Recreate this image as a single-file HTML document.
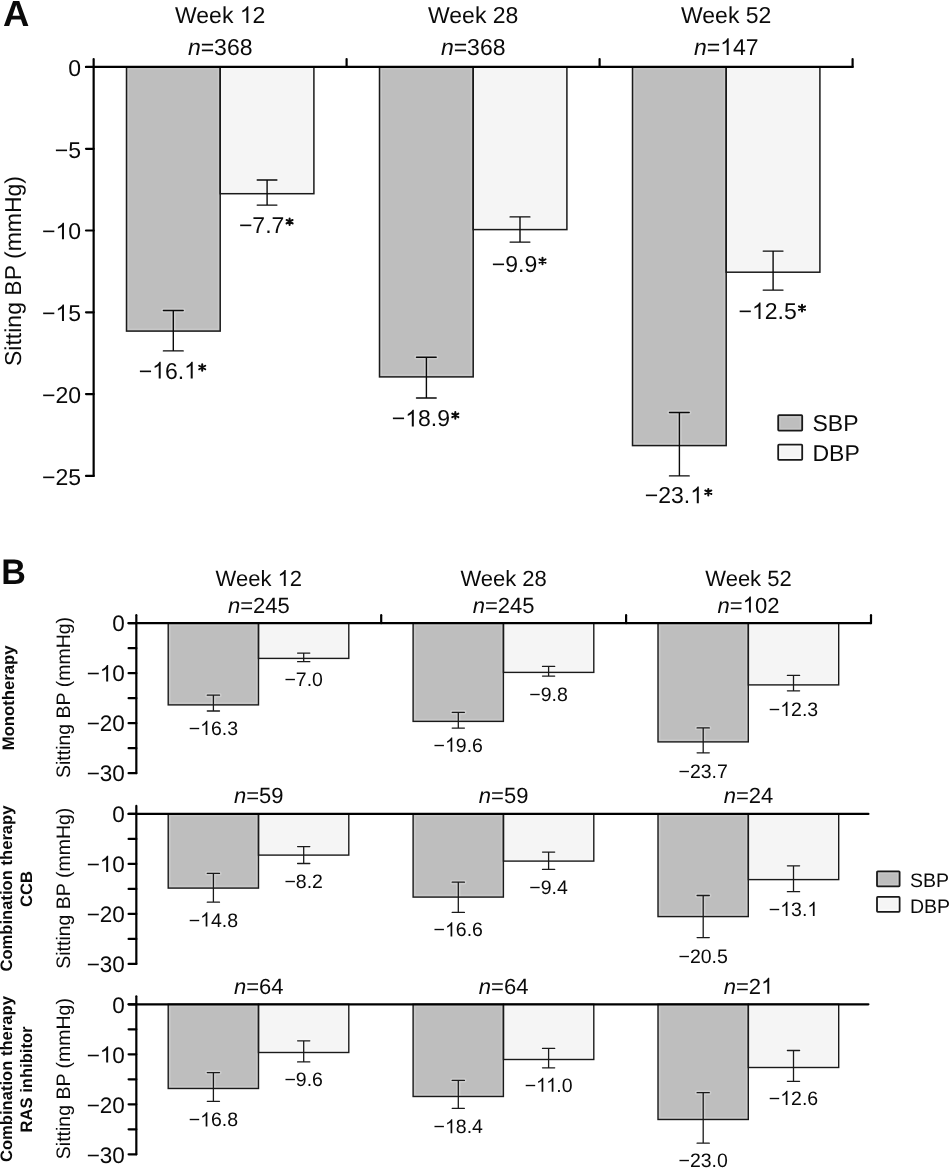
<!DOCTYPE html>
<html><head><meta charset="utf-8"><style>
html,body{margin:0;padding:0;background:#fff;width:949px;height:1168px;overflow:hidden}
svg{display:block;will-change:transform}
text{font-family:"Liberation Sans", sans-serif;fill:#0a0a0a;text-rendering:geometricPrecision}
.o,.s{fill-opacity:0}
</style></head><body>
<svg width="949" height="1168" viewBox="0 0 949 1168">
<rect width="949" height="1168" fill="#fff"/>
<rect x="126.5" y="67.0" width="93.7" height="264.1" fill="#bebebe"/>
<rect x="220.2" y="67.0" width="93.7" height="126.7" fill="#f5f5f5"/>
<rect x="379.5" y="67.0" width="93.7" height="309.9" fill="#bebebe"/>
<rect x="473.2" y="67.0" width="93.7" height="162.6" fill="#f5f5f5"/>
<rect x="632.5" y="67.0" width="93.7" height="378.6" fill="#bebebe"/>
<rect x="726.2" y="67.0" width="93.7" height="205.2" fill="#f5f5f5"/>
<rect x="168.2" y="623.2" width="90.3" height="81.7" fill="#bebebe"/>
<rect x="258.5" y="623.2" width="90.3" height="35.2" fill="#f5f5f5"/>
<rect x="413.1" y="623.2" width="90.3" height="98.2" fill="#bebebe"/>
<rect x="503.5" y="623.2" width="90.3" height="49.2" fill="#f5f5f5"/>
<rect x="658.0" y="623.2" width="90.3" height="118.7" fill="#bebebe"/>
<rect x="748.4" y="623.2" width="90.3" height="61.7" fill="#f5f5f5"/>
<rect x="168.2" y="813.9" width="90.3" height="74.2" fill="#bebebe"/>
<rect x="258.5" y="813.9" width="90.3" height="41.2" fill="#f5f5f5"/>
<rect x="413.1" y="813.9" width="90.3" height="83.2" fill="#bebebe"/>
<rect x="503.5" y="813.9" width="90.3" height="47.2" fill="#f5f5f5"/>
<rect x="658.0" y="813.9" width="90.3" height="102.7" fill="#bebebe"/>
<rect x="748.4" y="813.9" width="90.3" height="65.7" fill="#f5f5f5"/>
<rect x="168.2" y="1004.3" width="90.3" height="84.2" fill="#bebebe"/>
<rect x="258.5" y="1004.3" width="90.3" height="48.2" fill="#f5f5f5"/>
<rect x="413.1" y="1004.3" width="90.3" height="92.2" fill="#bebebe"/>
<rect x="503.5" y="1004.3" width="90.3" height="55.2" fill="#f5f5f5"/>
<rect x="658.0" y="1004.3" width="90.3" height="115.2" fill="#bebebe"/>
<rect x="748.4" y="1004.3" width="90.3" height="63.2" fill="#f5f5f5"/>
<rect x="128.3" y="68.8" width="90.1" height="260.5" fill="none" stroke="#fff" stroke-opacity="0.16" stroke-width="1.4"/>
<rect x="222.0" y="68.8" width="90.1" height="123.1" fill="none" stroke="#fff" stroke-opacity="0.16" stroke-width="1.4"/>
<path d="M173.3 310.5V350.9M163.4 310.5H183.2M163.4 350.9H183.2" stroke="#fff" stroke-opacity="0.22" stroke-width="4.6" stroke-linecap="round" fill="none"/>
<path d="M267.1 180.0V205.1M257.2 180.0H276.9M257.2 205.1H276.9" stroke="#fff" stroke-opacity="0.22" stroke-width="4.6" stroke-linecap="round" fill="none"/>
<rect x="381.3" y="68.8" width="90.1" height="306.3" fill="none" stroke="#fff" stroke-opacity="0.16" stroke-width="1.4"/>
<rect x="475.0" y="68.8" width="90.1" height="159.0" fill="none" stroke="#fff" stroke-opacity="0.16" stroke-width="1.4"/>
<path d="M426.4 357.2V398.0M416.5 357.2H436.2M416.5 398.0H436.2" stroke="#fff" stroke-opacity="0.22" stroke-width="4.6" stroke-linecap="round" fill="none"/>
<path d="M520.0 216.9V242.1M510.1 216.9H529.9M510.1 242.1H529.9" stroke="#fff" stroke-opacity="0.22" stroke-width="4.6" stroke-linecap="round" fill="none"/>
<rect x="634.3" y="68.8" width="90.1" height="375.0" fill="none" stroke="#fff" stroke-opacity="0.16" stroke-width="1.4"/>
<rect x="728.0" y="68.8" width="90.1" height="201.6" fill="none" stroke="#fff" stroke-opacity="0.16" stroke-width="1.4"/>
<path d="M679.4 412.5V475.9M669.5 412.5H689.2M669.5 475.9H689.2" stroke="#fff" stroke-opacity="0.22" stroke-width="4.6" stroke-linecap="round" fill="none"/>
<path d="M773.1 251.1V290.1M763.2 251.1H783.0M763.2 290.1H783.0" stroke="#fff" stroke-opacity="0.22" stroke-width="4.6" stroke-linecap="round" fill="none"/>
<rect x="170.0" y="625.0" width="86.8" height="78.1" fill="none" stroke="#fff" stroke-opacity="0.16" stroke-width="1.4"/>
<rect x="260.3" y="625.0" width="86.8" height="31.6" fill="none" stroke="#fff" stroke-opacity="0.16" stroke-width="1.4"/>
<path d="M213.4 695.2V711.0M207.3 695.2H219.5M207.3 711.0H219.5" stroke="#fff" stroke-opacity="0.22" stroke-width="4.4" stroke-linecap="round" fill="none"/>
<path d="M303.7 653.1V661.7M297.6 653.1H309.8M297.6 661.7H309.8" stroke="#fff" stroke-opacity="0.22" stroke-width="4.4" stroke-linecap="round" fill="none"/>
<rect x="414.9" y="625.0" width="86.8" height="94.6" fill="none" stroke="#fff" stroke-opacity="0.16" stroke-width="1.4"/>
<rect x="505.3" y="625.0" width="86.8" height="45.6" fill="none" stroke="#fff" stroke-opacity="0.16" stroke-width="1.4"/>
<path d="M458.3 712.3V728.1M452.2 712.3H464.4M452.2 728.1H464.4" stroke="#fff" stroke-opacity="0.22" stroke-width="4.4" stroke-linecap="round" fill="none"/>
<path d="M548.6 666.4V676.1M542.5 666.4H554.7M542.5 676.1H554.7" stroke="#fff" stroke-opacity="0.22" stroke-width="4.4" stroke-linecap="round" fill="none"/>
<rect x="659.8" y="625.0" width="86.8" height="115.1" fill="none" stroke="#fff" stroke-opacity="0.16" stroke-width="1.4"/>
<rect x="750.1" y="625.0" width="86.8" height="58.1" fill="none" stroke="#fff" stroke-opacity="0.16" stroke-width="1.4"/>
<path d="M703.2 727.9V752.8M697.1 727.9H709.3M697.1 752.8H709.3" stroke="#fff" stroke-opacity="0.22" stroke-width="4.4" stroke-linecap="round" fill="none"/>
<path d="M793.5 675.4V690.8M787.4 675.4H799.6M787.4 690.8H799.6" stroke="#fff" stroke-opacity="0.22" stroke-width="4.4" stroke-linecap="round" fill="none"/>
<rect x="170.0" y="815.7" width="86.8" height="70.6" fill="none" stroke="#fff" stroke-opacity="0.16" stroke-width="1.4"/>
<rect x="260.3" y="815.7" width="86.8" height="37.6" fill="none" stroke="#fff" stroke-opacity="0.16" stroke-width="1.4"/>
<path d="M213.4 873.4V902.2M207.3 873.4H219.5M207.3 902.2H219.5" stroke="#fff" stroke-opacity="0.22" stroke-width="4.4" stroke-linecap="round" fill="none"/>
<path d="M303.7 846.6V863.5M297.6 846.6H309.8M297.6 863.5H309.8" stroke="#fff" stroke-opacity="0.22" stroke-width="4.4" stroke-linecap="round" fill="none"/>
<rect x="414.9" y="815.7" width="86.8" height="79.6" fill="none" stroke="#fff" stroke-opacity="0.16" stroke-width="1.4"/>
<rect x="505.3" y="815.7" width="86.8" height="43.6" fill="none" stroke="#fff" stroke-opacity="0.16" stroke-width="1.4"/>
<path d="M458.3 882.2V912.4M452.2 882.2H464.4M452.2 912.4H464.4" stroke="#fff" stroke-opacity="0.22" stroke-width="4.4" stroke-linecap="round" fill="none"/>
<path d="M548.6 852.1V869.4M542.5 852.1H554.7M542.5 869.4H554.7" stroke="#fff" stroke-opacity="0.22" stroke-width="4.4" stroke-linecap="round" fill="none"/>
<rect x="659.8" y="815.7" width="86.8" height="99.1" fill="none" stroke="#fff" stroke-opacity="0.16" stroke-width="1.4"/>
<rect x="750.1" y="815.7" width="86.8" height="62.1" fill="none" stroke="#fff" stroke-opacity="0.16" stroke-width="1.4"/>
<path d="M703.2 895.5V937.6M697.1 895.5H709.3M697.1 937.6H709.3" stroke="#fff" stroke-opacity="0.22" stroke-width="4.4" stroke-linecap="round" fill="none"/>
<path d="M793.5 865.8V891.7M787.4 865.8H799.6M787.4 891.7H799.6" stroke="#fff" stroke-opacity="0.22" stroke-width="4.4" stroke-linecap="round" fill="none"/>
<rect x="170.0" y="1006.1" width="86.8" height="80.6" fill="none" stroke="#fff" stroke-opacity="0.16" stroke-width="1.4"/>
<rect x="260.3" y="1006.1" width="86.8" height="44.6" fill="none" stroke="#fff" stroke-opacity="0.16" stroke-width="1.4"/>
<path d="M213.4 1072.6V1101.3M207.3 1072.6H219.5M207.3 1101.3H219.5" stroke="#fff" stroke-opacity="0.22" stroke-width="4.4" stroke-linecap="round" fill="none"/>
<path d="M303.7 1040.8V1061.9M297.6 1040.8H309.8M297.6 1061.9H309.8" stroke="#fff" stroke-opacity="0.22" stroke-width="4.4" stroke-linecap="round" fill="none"/>
<rect x="414.9" y="1006.1" width="86.8" height="88.6" fill="none" stroke="#fff" stroke-opacity="0.16" stroke-width="1.4"/>
<rect x="505.3" y="1006.1" width="86.8" height="51.6" fill="none" stroke="#fff" stroke-opacity="0.16" stroke-width="1.4"/>
<path d="M458.3 1080.4V1108.3M452.2 1080.4H464.4M452.2 1108.3H464.4" stroke="#fff" stroke-opacity="0.22" stroke-width="4.4" stroke-linecap="round" fill="none"/>
<path d="M548.6 1048.4V1067.8M542.5 1048.4H554.7M542.5 1067.8H554.7" stroke="#fff" stroke-opacity="0.22" stroke-width="4.4" stroke-linecap="round" fill="none"/>
<rect x="659.8" y="1006.1" width="86.8" height="111.6" fill="none" stroke="#fff" stroke-opacity="0.16" stroke-width="1.4"/>
<rect x="750.1" y="1006.1" width="86.8" height="59.6" fill="none" stroke="#fff" stroke-opacity="0.16" stroke-width="1.4"/>
<path d="M703.2 1092.7V1143.2M697.1 1092.7H709.3M697.1 1143.2H709.3" stroke="#fff" stroke-opacity="0.22" stroke-width="4.4" stroke-linecap="round" fill="none"/>
<path d="M793.5 1050.5V1081.3M787.4 1050.5H799.6M787.4 1081.3H799.6" stroke="#fff" stroke-opacity="0.22" stroke-width="4.4" stroke-linecap="round" fill="none"/>
<rect x="126.5" y="67.0" width="93.7" height="264.1" fill="none" stroke="#1a1a1a" stroke-width="1.5"/>
<rect x="220.2" y="67.0" width="93.7" height="126.7" fill="none" stroke="#1a1a1a" stroke-width="1.5"/>
<rect x="379.5" y="67.0" width="93.7" height="309.9" fill="none" stroke="#1a1a1a" stroke-width="1.5"/>
<rect x="473.2" y="67.0" width="93.7" height="162.6" fill="none" stroke="#1a1a1a" stroke-width="1.5"/>
<rect x="632.5" y="67.0" width="93.7" height="378.6" fill="none" stroke="#1a1a1a" stroke-width="1.5"/>
<rect x="726.2" y="67.0" width="93.7" height="205.2" fill="none" stroke="#1a1a1a" stroke-width="1.5"/>
<rect x="168.2" y="623.2" width="90.3" height="81.7" fill="none" stroke="#1a1a1a" stroke-width="1.4"/>
<rect x="258.5" y="623.2" width="90.3" height="35.2" fill="none" stroke="#1a1a1a" stroke-width="1.4"/>
<rect x="413.1" y="623.2" width="90.3" height="98.2" fill="none" stroke="#1a1a1a" stroke-width="1.4"/>
<rect x="503.5" y="623.2" width="90.3" height="49.2" fill="none" stroke="#1a1a1a" stroke-width="1.4"/>
<rect x="658.0" y="623.2" width="90.3" height="118.7" fill="none" stroke="#1a1a1a" stroke-width="1.4"/>
<rect x="748.4" y="623.2" width="90.3" height="61.7" fill="none" stroke="#1a1a1a" stroke-width="1.4"/>
<rect x="168.2" y="813.9" width="90.3" height="74.2" fill="none" stroke="#1a1a1a" stroke-width="1.4"/>
<rect x="258.5" y="813.9" width="90.3" height="41.2" fill="none" stroke="#1a1a1a" stroke-width="1.4"/>
<rect x="413.1" y="813.9" width="90.3" height="83.2" fill="none" stroke="#1a1a1a" stroke-width="1.4"/>
<rect x="503.5" y="813.9" width="90.3" height="47.2" fill="none" stroke="#1a1a1a" stroke-width="1.4"/>
<rect x="658.0" y="813.9" width="90.3" height="102.7" fill="none" stroke="#1a1a1a" stroke-width="1.4"/>
<rect x="748.4" y="813.9" width="90.3" height="65.7" fill="none" stroke="#1a1a1a" stroke-width="1.4"/>
<rect x="168.2" y="1004.3" width="90.3" height="84.2" fill="none" stroke="#1a1a1a" stroke-width="1.4"/>
<rect x="258.5" y="1004.3" width="90.3" height="48.2" fill="none" stroke="#1a1a1a" stroke-width="1.4"/>
<rect x="413.1" y="1004.3" width="90.3" height="92.2" fill="none" stroke="#1a1a1a" stroke-width="1.4"/>
<rect x="503.5" y="1004.3" width="90.3" height="55.2" fill="none" stroke="#1a1a1a" stroke-width="1.4"/>
<rect x="658.0" y="1004.3" width="90.3" height="115.2" fill="none" stroke="#1a1a1a" stroke-width="1.4"/>
<rect x="748.4" y="1004.3" width="90.3" height="63.2" fill="none" stroke="#1a1a1a" stroke-width="1.4"/>
<path d="M173.3 310.5V350.9M163.4 310.5H183.2M163.4 350.9H183.2" stroke="#0a0a0a" stroke-width="1.4" stroke-linecap="round" fill="none"/>
<path d="M267.1 180.0V205.1M257.2 180.0H276.9M257.2 205.1H276.9" stroke="#0a0a0a" stroke-width="1.4" stroke-linecap="round" fill="none"/>
<path d="M426.4 357.2V398.0M416.5 357.2H436.2M416.5 398.0H436.2" stroke="#0a0a0a" stroke-width="1.4" stroke-linecap="round" fill="none"/>
<path d="M520.0 216.9V242.1M510.1 216.9H529.9M510.1 242.1H529.9" stroke="#0a0a0a" stroke-width="1.4" stroke-linecap="round" fill="none"/>
<path d="M679.4 412.5V475.9M669.5 412.5H689.2M669.5 475.9H689.2" stroke="#0a0a0a" stroke-width="1.4" stroke-linecap="round" fill="none"/>
<path d="M773.1 251.1V290.1M763.2 251.1H783.0M763.2 290.1H783.0" stroke="#0a0a0a" stroke-width="1.4" stroke-linecap="round" fill="none"/>
<path d="M213.4 695.2V711.0M207.3 695.2H219.5M207.3 711.0H219.5" stroke="#1a1a1a" stroke-width="1.3" stroke-linecap="round" fill="none"/>
<path d="M303.7 653.1V661.7M297.6 653.1H309.8M297.6 661.7H309.8" stroke="#1a1a1a" stroke-width="1.3" stroke-linecap="round" fill="none"/>
<path d="M458.3 712.3V728.1M452.2 712.3H464.4M452.2 728.1H464.4" stroke="#1a1a1a" stroke-width="1.3" stroke-linecap="round" fill="none"/>
<path d="M548.6 666.4V676.1M542.5 666.4H554.7M542.5 676.1H554.7" stroke="#1a1a1a" stroke-width="1.3" stroke-linecap="round" fill="none"/>
<path d="M703.2 727.9V752.8M697.1 727.9H709.3M697.1 752.8H709.3" stroke="#1a1a1a" stroke-width="1.3" stroke-linecap="round" fill="none"/>
<path d="M793.5 675.4V690.8M787.4 675.4H799.6M787.4 690.8H799.6" stroke="#1a1a1a" stroke-width="1.3" stroke-linecap="round" fill="none"/>
<path d="M213.4 873.4V902.2M207.3 873.4H219.5M207.3 902.2H219.5" stroke="#1a1a1a" stroke-width="1.3" stroke-linecap="round" fill="none"/>
<path d="M303.7 846.6V863.5M297.6 846.6H309.8M297.6 863.5H309.8" stroke="#1a1a1a" stroke-width="1.3" stroke-linecap="round" fill="none"/>
<path d="M458.3 882.2V912.4M452.2 882.2H464.4M452.2 912.4H464.4" stroke="#1a1a1a" stroke-width="1.3" stroke-linecap="round" fill="none"/>
<path d="M548.6 852.1V869.4M542.5 852.1H554.7M542.5 869.4H554.7" stroke="#1a1a1a" stroke-width="1.3" stroke-linecap="round" fill="none"/>
<path d="M703.2 895.5V937.6M697.1 895.5H709.3M697.1 937.6H709.3" stroke="#1a1a1a" stroke-width="1.3" stroke-linecap="round" fill="none"/>
<path d="M793.5 865.8V891.7M787.4 865.8H799.6M787.4 891.7H799.6" stroke="#1a1a1a" stroke-width="1.3" stroke-linecap="round" fill="none"/>
<path d="M213.4 1072.6V1101.3M207.3 1072.6H219.5M207.3 1101.3H219.5" stroke="#1a1a1a" stroke-width="1.3" stroke-linecap="round" fill="none"/>
<path d="M303.7 1040.8V1061.9M297.6 1040.8H309.8M297.6 1061.9H309.8" stroke="#1a1a1a" stroke-width="1.3" stroke-linecap="round" fill="none"/>
<path d="M458.3 1080.4V1108.3M452.2 1080.4H464.4M452.2 1108.3H464.4" stroke="#1a1a1a" stroke-width="1.3" stroke-linecap="round" fill="none"/>
<path d="M548.6 1048.4V1067.8M542.5 1048.4H554.7M542.5 1067.8H554.7" stroke="#1a1a1a" stroke-width="1.3" stroke-linecap="round" fill="none"/>
<path d="M703.2 1092.7V1143.2M697.1 1092.7H709.3M697.1 1143.2H709.3" stroke="#1a1a1a" stroke-width="1.3" stroke-linecap="round" fill="none"/>
<path d="M793.5 1050.5V1081.3M787.4 1050.5H799.6M787.4 1081.3H799.6" stroke="#1a1a1a" stroke-width="1.3" stroke-linecap="round" fill="none"/>
<text x="3" y="25.8" font-size="36.5" font-weight="bold">A</text>
<text x="220.2" y="23" font-size="23" text-anchor="middle">Week <tspan class="o">1</tspan>2</text>
<text x="220.2" y="55" font-size="23" text-anchor="middle"><tspan font-style="italic">n</tspan>=368</text>
<text x="473.2" y="23" font-size="23" text-anchor="middle">Week 28</text>
<text x="473.2" y="55" font-size="23" text-anchor="middle"><tspan font-style="italic">n</tspan>=368</text>
<text x="726.2" y="23" font-size="23" text-anchor="middle">Week 52</text>
<text x="726.2" y="55" font-size="23" text-anchor="middle"><tspan font-style="italic">n</tspan>=<tspan class="o">1</tspan>47</text>
<text x="172.3" y="378.5" font-size="23" text-anchor="middle">−<tspan class="o">1</tspan>6.<tspan class="o">1</tspan><tspan class="s">*</tspan></text>
<text x="266.1" y="232.7" font-size="23" text-anchor="middle">−7.7<tspan class="s">*</tspan></text>
<text x="425.4" y="426.4" font-size="23" text-anchor="middle">−<tspan class="o">1</tspan>8.9<tspan class="s">*</tspan></text>
<text x="519.0" y="272.0" font-size="23" text-anchor="middle">−9.9<tspan class="s">*</tspan></text>
<text x="678.4" y="503.2" font-size="23" text-anchor="middle">−23.<tspan class="o">1</tspan><tspan class="s">*</tspan></text>
<text x="772.1" y="319.1" font-size="23" text-anchor="middle">−<tspan class="o">1</tspan>2.5<tspan class="s">*</tspan></text>
<path d="M93.65 59V475.9" stroke="#000" stroke-width="2.2" stroke-linecap="round" stroke-linejoin="round" fill="none"/>
<path d="M86 66.96H852.6" stroke="#000" stroke-width="2.2" stroke-linecap="round" stroke-linejoin="round" fill="none"/>
<path d="M86 67.0H93.65" stroke="#000" stroke-width="2.2" stroke-linecap="round" stroke-linejoin="round" fill="none"/>
<text x="81" y="75.8" font-size="23" text-anchor="end">0</text>
<path d="M86 148.8H93.65" stroke="#000" stroke-width="2.2" stroke-linecap="round" stroke-linejoin="round" fill="none"/>
<text x="81" y="157.6" font-size="23" text-anchor="end">−5</text>
<path d="M86 230.5H93.65" stroke="#000" stroke-width="2.2" stroke-linecap="round" stroke-linejoin="round" fill="none"/>
<text x="81" y="239.3" font-size="23" text-anchor="end">−<tspan class="o">1</tspan>0</text>
<path d="M86 312.3H93.65" stroke="#000" stroke-width="2.2" stroke-linecap="round" stroke-linejoin="round" fill="none"/>
<text x="81" y="321.1" font-size="23" text-anchor="end">−<tspan class="o">1</tspan>5</text>
<path d="M86 394.1H93.65" stroke="#000" stroke-width="2.2" stroke-linecap="round" stroke-linejoin="round" fill="none"/>
<text x="81" y="402.9" font-size="23" text-anchor="end">−20</text>
<path d="M86 475.9H93.65" stroke="#000" stroke-width="2.2" stroke-linecap="round" stroke-linejoin="round" fill="none"/>
<text x="81" y="484.7" font-size="23" text-anchor="end">−25</text>
<path d="M346.6 59V66.96" stroke="#000" stroke-width="2.2" stroke-linecap="round" stroke-linejoin="round" fill="none"/>
<path d="M599.6 59V66.96" stroke="#000" stroke-width="2.2" stroke-linecap="round" stroke-linejoin="round" fill="none"/>
<path d="M852.6 59V66.96" stroke="#000" stroke-width="2.2" stroke-linecap="round" stroke-linejoin="round" fill="none"/>
<text transform="translate(21.2,271.0) rotate(-90)" font-size="23" text-anchor="middle">Sitting BP (mmHg)</text>
<rect x="778.2" y="415.2" width="24" height="15.4" rx="0.8" fill="#bebebe" stroke="#1a1a1a" stroke-width="1.8"/>
<rect x="780.1" y="417.1" width="20.2" height="11.6" fill="none" stroke="#fff" stroke-opacity="0.16" stroke-width="1.2"/>
<rect x="778.2" y="444.6" width="24" height="15.2" rx="0.8" fill="#f5f5f5" stroke="#1a1a1a" stroke-width="1.8"/>
<rect x="780.1" y="446.5" width="20.2" height="11.4" fill="none" stroke="#fff" stroke-opacity="0.6" stroke-width="1.2"/>
<text x="812.5" y="431.1" font-size="23">SBP</text>
<text x="812.5" y="460.8" font-size="23">DBP</text>
<text transform="translate(1.3,583.7) scale(0.96,1)" font-size="35.5" font-weight="bold">B</text>
<text x="258.8" y="586" font-size="22" text-anchor="middle">Week <tspan class="o">1</tspan>2</text>
<text x="258.8" y="612.5" font-size="22" text-anchor="middle"><tspan font-style="italic">n</tspan>=245</text>
<text x="213.4" y="734.9" font-size="19.5" text-anchor="middle">−<tspan class="o">1</tspan>6.3</text>
<text x="303.7" y="686.0" font-size="19.5" text-anchor="middle">−7.0</text>
<text x="503.6" y="586" font-size="22" text-anchor="middle">Week 28</text>
<text x="503.6" y="612.5" font-size="22" text-anchor="middle"><tspan font-style="italic">n</tspan>=245</text>
<text x="458.3" y="751.7" font-size="19.5" text-anchor="middle">−<tspan class="o">1</tspan>9.6</text>
<text x="548.6" y="700.5" font-size="19.5" text-anchor="middle">−9.8</text>
<text x="748.5" y="586" font-size="22" text-anchor="middle">Week 52</text>
<text x="748.5" y="612.5" font-size="22" text-anchor="middle"><tspan font-style="italic">n</tspan>=<tspan class="o">1</tspan>02</text>
<text x="703.2" y="777.6" font-size="19.5" text-anchor="middle">−23.7</text>
<text x="793.5" y="715.9" font-size="19.5" text-anchor="middle">−<tspan class="o">1</tspan>2.3</text>
<path d="M136.33 615.2V773.2" stroke="#000" stroke-width="2.2" stroke-linecap="round" stroke-linejoin="round" fill="none"/>
<path d="M128.6 623.2H871.0" stroke="#000" stroke-width="2.2" stroke-linecap="round" stroke-linejoin="round" fill="none"/>
<path d="M128.6 623.2H136.33" stroke="#000" stroke-width="2.2" stroke-linecap="round" stroke-linejoin="round" fill="none"/>
<text x="124.8" y="631.4" font-size="22.5" text-anchor="end">0</text>
<path d="M128.6 648.2H136.33" stroke="#000" stroke-width="2.2" stroke-linecap="round" stroke-linejoin="round" fill="none"/>
<path d="M128.6 673.2H136.33" stroke="#000" stroke-width="2.2" stroke-linecap="round" stroke-linejoin="round" fill="none"/>
<text x="124.8" y="681.4" font-size="22.5" text-anchor="end">−<tspan class="o">1</tspan>0</text>
<path d="M128.6 698.2H136.33" stroke="#000" stroke-width="2.2" stroke-linecap="round" stroke-linejoin="round" fill="none"/>
<path d="M128.6 723.2H136.33" stroke="#000" stroke-width="2.2" stroke-linecap="round" stroke-linejoin="round" fill="none"/>
<text x="124.8" y="731.4" font-size="22.5" text-anchor="end">−20</text>
<path d="M128.6 748.2H136.33" stroke="#000" stroke-width="2.2" stroke-linecap="round" stroke-linejoin="round" fill="none"/>
<path d="M128.6 773.2H136.33" stroke="#000" stroke-width="2.2" stroke-linecap="round" stroke-linejoin="round" fill="none"/>
<text x="124.8" y="781.4" font-size="22.5" text-anchor="end">−30</text>
<path d="M381.2 615.2V623.2" stroke="#000" stroke-width="2.2" stroke-linecap="round" stroke-linejoin="round" fill="none"/>
<path d="M626.1 615.2V623.2" stroke="#000" stroke-width="2.2" stroke-linecap="round" stroke-linejoin="round" fill="none"/>
<path d="M871.0 615.2V623.2" stroke="#000" stroke-width="2.2" stroke-linecap="round" stroke-linejoin="round" fill="none"/>
<text transform="translate(69.9,697.5) rotate(-90)" font-size="19.5" text-anchor="middle">Sitting BP (mmHg)</text>
<text x="258.8" y="803.3" font-size="22" text-anchor="middle"><tspan font-style="italic">n</tspan>=59</text>
<text x="213.4" y="926.5" font-size="19.5" text-anchor="middle">−<tspan class="o">1</tspan>4.8</text>
<text x="303.7" y="887.9" font-size="19.5" text-anchor="middle">−8.2</text>
<text x="503.6" y="803.3" font-size="22" text-anchor="middle"><tspan font-style="italic">n</tspan>=59</text>
<text x="458.3" y="936.4" font-size="19.5" text-anchor="middle">−<tspan class="o">1</tspan>6.6</text>
<text x="548.6" y="893.8" font-size="19.5" text-anchor="middle">−9.4</text>
<text x="748.5" y="803.3" font-size="22" text-anchor="middle"><tspan font-style="italic">n</tspan>=24</text>
<text x="703.2" y="962.5" font-size="19.5" text-anchor="middle">−20.5</text>
<text x="793.5" y="916.0" font-size="19.5" text-anchor="middle">−<tspan class="o">1</tspan>3.<tspan class="o">1</tspan></text>
<path d="M136.33 805.9V963.9" stroke="#000" stroke-width="2.2" stroke-linecap="round" stroke-linejoin="round" fill="none"/>
<path d="M128.6 813.9H868.4" stroke="#000" stroke-width="2.2" stroke-linecap="round" stroke-linejoin="round" fill="none"/>
<path d="M128.6 813.9H136.33" stroke="#000" stroke-width="2.2" stroke-linecap="round" stroke-linejoin="round" fill="none"/>
<text x="124.8" y="822.1" font-size="22.5" text-anchor="end">0</text>
<path d="M128.6 838.9H136.33" stroke="#000" stroke-width="2.2" stroke-linecap="round" stroke-linejoin="round" fill="none"/>
<path d="M128.6 863.9H136.33" stroke="#000" stroke-width="2.2" stroke-linecap="round" stroke-linejoin="round" fill="none"/>
<text x="124.8" y="872.1" font-size="22.5" text-anchor="end">−<tspan class="o">1</tspan>0</text>
<path d="M128.6 888.9H136.33" stroke="#000" stroke-width="2.2" stroke-linecap="round" stroke-linejoin="round" fill="none"/>
<path d="M128.6 913.9H136.33" stroke="#000" stroke-width="2.2" stroke-linecap="round" stroke-linejoin="round" fill="none"/>
<text x="124.8" y="922.1" font-size="22.5" text-anchor="end">−20</text>
<path d="M128.6 938.9H136.33" stroke="#000" stroke-width="2.2" stroke-linecap="round" stroke-linejoin="round" fill="none"/>
<path d="M128.6 963.9H136.33" stroke="#000" stroke-width="2.2" stroke-linecap="round" stroke-linejoin="round" fill="none"/>
<text x="124.8" y="972.1" font-size="22.5" text-anchor="end">−30</text>
<text transform="translate(69.9,888.2) rotate(-90)" font-size="19.5" text-anchor="middle">Sitting BP (mmHg)</text>
<text x="258.8" y="993.7" font-size="22" text-anchor="middle"><tspan font-style="italic">n</tspan>=64</text>
<text x="213.4" y="1126.4" font-size="19.5" text-anchor="middle">−<tspan class="o">1</tspan>6.8</text>
<text x="303.7" y="1086.3" font-size="19.5" text-anchor="middle">−9.6</text>
<text x="503.6" y="993.7" font-size="22" text-anchor="middle"><tspan font-style="italic">n</tspan>=64</text>
<text x="458.3" y="1133.3" font-size="19.5" text-anchor="middle">−<tspan class="o">1</tspan>8.4</text>
<text x="548.6" y="1091.8" font-size="19.5" text-anchor="middle">−<tspan class="o">1</tspan><tspan class="o">1</tspan>.0</text>
<text x="748.5" y="993.7" font-size="22" text-anchor="middle"><tspan font-style="italic">n</tspan>=2<tspan class="o">1</tspan></text>
<text x="703.2" y="1166.9" font-size="19.5" text-anchor="middle">−23.0</text>
<text x="793.5" y="1104.9" font-size="19.5" text-anchor="middle">−<tspan class="o">1</tspan>2.6</text>
<path d="M136.33 996.3V1154.3" stroke="#000" stroke-width="2.2" stroke-linecap="round" stroke-linejoin="round" fill="none"/>
<path d="M128.6 1004.3H868.4" stroke="#000" stroke-width="2.2" stroke-linecap="round" stroke-linejoin="round" fill="none"/>
<path d="M128.6 1004.3H136.33" stroke="#000" stroke-width="2.2" stroke-linecap="round" stroke-linejoin="round" fill="none"/>
<text x="124.8" y="1012.5" font-size="22.5" text-anchor="end">0</text>
<path d="M128.6 1029.3H136.33" stroke="#000" stroke-width="2.2" stroke-linecap="round" stroke-linejoin="round" fill="none"/>
<path d="M128.6 1054.3H136.33" stroke="#000" stroke-width="2.2" stroke-linecap="round" stroke-linejoin="round" fill="none"/>
<text x="124.8" y="1062.5" font-size="22.5" text-anchor="end">−<tspan class="o">1</tspan>0</text>
<path d="M128.6 1079.3H136.33" stroke="#000" stroke-width="2.2" stroke-linecap="round" stroke-linejoin="round" fill="none"/>
<path d="M128.6 1104.3H136.33" stroke="#000" stroke-width="2.2" stroke-linecap="round" stroke-linejoin="round" fill="none"/>
<text x="124.8" y="1112.5" font-size="22.5" text-anchor="end">−20</text>
<path d="M128.6 1129.3H136.33" stroke="#000" stroke-width="2.2" stroke-linecap="round" stroke-linejoin="round" fill="none"/>
<path d="M128.6 1154.3H136.33" stroke="#000" stroke-width="2.2" stroke-linecap="round" stroke-linejoin="round" fill="none"/>
<text x="124.8" y="1162.5" font-size="22.5" text-anchor="end">−30</text>
<text transform="translate(69.9,1078.6) rotate(-90)" font-size="19.5" text-anchor="middle">Sitting BP (mmHg)</text>
<text transform="translate(14.4,697.9) rotate(-90)" font-size="16.7" font-weight="bold" text-anchor="middle">Monotherapy</text>
<text transform="translate(11.9,888.55) rotate(-90)" font-size="16.6" font-weight="bold" text-anchor="middle">Combination therapy</text>
<text transform="translate(31.6,889.1) rotate(-90)" font-size="16.6" font-weight="bold" text-anchor="middle">CCB</text>
<text transform="translate(11.9,1079.1) rotate(-90)" font-size="16.6" font-weight="bold" text-anchor="middle">Combination therapy</text>
<text transform="translate(31.6,1079.45) rotate(-90)" font-size="16.6" font-weight="bold" text-anchor="middle">RAS inhibitor</text>
<rect x="877" y="871.3" width="22.6" height="15.1" rx="0.8" fill="#bebebe" stroke="#1a1a1a" stroke-width="1.8"/>
<rect x="878.9" y="873.2" width="18.8" height="11.3" fill="none" stroke="#fff" stroke-opacity="0.16" stroke-width="1.2"/>
<rect x="877" y="896.9" width="22.6" height="14.9" rx="0.8" fill="#f5f5f5" stroke="#1a1a1a" stroke-width="1.8"/>
<rect x="878.9" y="898.8" width="18.8" height="11.1" fill="none" stroke="#fff" stroke-opacity="0.6" stroke-width="1.2"/>
<text x="910" y="887" font-size="19.5">SBP</text>
<text x="910" y="912.7" font-size="19.5">DBP</text>
<g id="ones">
<path d="M763 0L583 0L583 1147Q518 1085 412.5 1023Q307 961 223 930L223 1104Q374 1175 486.5 1276Q599 1377 655 1484L763 1484Z" transform="translate(239.79,23.00) scale(0.01123,-0.01123)" fill="#0a0a0a"/>
<path d="M763 0L583 0L583 1147Q518 1085 412.5 1023Q307 961 223 930L223 1104Q374 1175 486.5 1276Q599 1377 655 1484L763 1484Z" transform="translate(720.12,55.00) scale(0.01123,-0.01123)" fill="#0a0a0a"/>
<path d="M763 0L583 0L583 1147Q518 1085 412.5 1023Q307 961 223 930L223 1104Q374 1175 486.5 1276Q599 1377 655 1484L763 1484Z" transform="translate(152.15,378.50) scale(0.01123,-0.01123)" fill="#0a0a0a"/>
<path d="M763 0L583 0L583 1147Q518 1085 412.5 1023Q307 961 223 930L223 1104Q374 1175 486.5 1276Q599 1377 655 1484L763 1484Z" transform="translate(184.14,378.50) scale(0.01123,-0.01123)" fill="#0a0a0a"/>
<path d="M763 0L583 0L583 1147Q518 1085 412.5 1023Q307 961 223 930L223 1104Q374 1175 486.5 1276Q599 1377 655 1484L763 1484Z" transform="translate(405.25,426.40) scale(0.01123,-0.01123)" fill="#0a0a0a"/>
<path d="M763 0L583 0L583 1147Q518 1085 412.5 1023Q307 961 223 930L223 1104Q374 1175 486.5 1276Q599 1377 655 1484L763 1484Z" transform="translate(690.23,503.20) scale(0.01123,-0.01123)" fill="#0a0a0a"/>
<path d="M763 0L583 0L583 1147Q518 1085 412.5 1023Q307 961 223 930L223 1104Q374 1175 486.5 1276Q599 1377 655 1484L763 1484Z" transform="translate(751.95,319.10) scale(0.01123,-0.01123)" fill="#0a0a0a"/>
<path d="M763 0L583 0L583 1147Q518 1085 412.5 1023Q307 961 223 930L223 1104Q374 1175 486.5 1276Q599 1377 655 1484L763 1484Z" transform="translate(55.41,239.30) scale(0.01123,-0.01123)" fill="#0a0a0a"/>
<path d="M763 0L583 0L583 1147Q518 1085 412.5 1023Q307 961 223 930L223 1104Q374 1175 486.5 1276Q599 1377 655 1484L763 1484Z" transform="translate(55.41,321.10) scale(0.01123,-0.01123)" fill="#0a0a0a"/>
<path d="M763 0L583 0L583 1147Q518 1085 412.5 1023Q307 961 223 930L223 1104Q374 1175 486.5 1276Q599 1377 655 1484L763 1484Z" transform="translate(277.53,586.00) scale(0.01074,-0.01074)" fill="#0a0a0a"/>
<path d="M763 0L583 0L583 1147Q518 1085 412.5 1023Q307 961 223 930L223 1104Q374 1175 486.5 1276Q599 1377 655 1484L763 1484Z" transform="translate(200.11,734.90) scale(0.00952,-0.00952)" fill="#0a0a0a"/>
<path d="M763 0L583 0L583 1147Q518 1085 412.5 1023Q307 961 223 930L223 1104Q374 1175 486.5 1276Q599 1377 655 1484L763 1484Z" transform="translate(445.01,751.70) scale(0.00952,-0.00952)" fill="#0a0a0a"/>
<path d="M763 0L583 0L583 1147Q518 1085 412.5 1023Q307 961 223 930L223 1104Q374 1175 486.5 1276Q599 1377 655 1484L763 1484Z" transform="translate(742.69,612.50) scale(0.01074,-0.01074)" fill="#0a0a0a"/>
<path d="M763 0L583 0L583 1147Q518 1085 412.5 1023Q307 961 223 930L223 1104Q374 1175 486.5 1276Q599 1377 655 1484L763 1484Z" transform="translate(780.21,715.90) scale(0.00952,-0.00952)" fill="#0a0a0a"/>
<path d="M763 0L583 0L583 1147Q518 1085 412.5 1023Q307 961 223 930L223 1104Q374 1175 486.5 1276Q599 1377 655 1484L763 1484Z" transform="translate(99.77,681.40) scale(0.01099,-0.01099)" fill="#0a0a0a"/>
<path d="M763 0L583 0L583 1147Q518 1085 412.5 1023Q307 961 223 930L223 1104Q374 1175 486.5 1276Q599 1377 655 1484L763 1484Z" transform="translate(200.11,926.50) scale(0.00952,-0.00952)" fill="#0a0a0a"/>
<path d="M763 0L583 0L583 1147Q518 1085 412.5 1023Q307 961 223 930L223 1104Q374 1175 486.5 1276Q599 1377 655 1484L763 1484Z" transform="translate(445.01,936.40) scale(0.00952,-0.00952)" fill="#0a0a0a"/>
<path d="M763 0L583 0L583 1147Q518 1085 412.5 1023Q307 961 223 930L223 1104Q374 1175 486.5 1276Q599 1377 655 1484L763 1484Z" transform="translate(780.20,916.00) scale(0.00952,-0.00952)" fill="#0a0a0a"/>
<path d="M763 0L583 0L583 1147Q518 1085 412.5 1023Q307 961 223 930L223 1104Q374 1175 486.5 1276Q599 1377 655 1484L763 1484Z" transform="translate(807.33,916.00) scale(0.00952,-0.00952)" fill="#0a0a0a"/>
<path d="M763 0L583 0L583 1147Q518 1085 412.5 1023Q307 961 223 930L223 1104Q374 1175 486.5 1276Q599 1377 655 1484L763 1484Z" transform="translate(99.77,872.10) scale(0.01099,-0.01099)" fill="#0a0a0a"/>
<path d="M763 0L583 0L583 1147Q518 1085 412.5 1023Q307 961 223 930L223 1104Q374 1175 486.5 1276Q599 1377 655 1484L763 1484Z" transform="translate(200.11,1126.40) scale(0.00952,-0.00952)" fill="#0a0a0a"/>
<path d="M763 0L583 0L583 1147Q518 1085 412.5 1023Q307 961 223 930L223 1104Q374 1175 486.5 1276Q599 1377 655 1484L763 1484Z" transform="translate(445.01,1133.30) scale(0.00952,-0.00952)" fill="#0a0a0a"/>
<path d="M763 0L583 0L583 1147Q518 1085 412.5 1023Q307 961 223 930L223 1104Q374 1175 486.5 1276Q599 1377 655 1484L763 1484Z" transform="translate(536.04,1091.80) scale(0.00952,-0.00952)" fill="#0a0a0a"/>
<path d="M763 0L583 0L583 1147Q518 1085 412.5 1023Q307 961 223 930L223 1104Q374 1175 486.5 1276Q599 1377 655 1484L763 1484Z" transform="translate(546.16,1091.80) scale(0.00952,-0.00952)" fill="#0a0a0a"/>
<path d="M763 0L583 0L583 1147Q518 1085 412.5 1023Q307 961 223 930L223 1104Q374 1175 486.5 1276Q599 1377 655 1484L763 1484Z" transform="translate(761.05,993.70) scale(0.01074,-0.01074)" fill="#0a0a0a"/>
<path d="M763 0L583 0L583 1147Q518 1085 412.5 1023Q307 961 223 930L223 1104Q374 1175 486.5 1276Q599 1377 655 1484L763 1484Z" transform="translate(780.21,1104.90) scale(0.00952,-0.00952)" fill="#0a0a0a"/>
<path d="M763 0L583 0L583 1147Q518 1085 412.5 1023Q307 961 223 930L223 1104Q374 1175 486.5 1276Q599 1377 655 1484L763 1484Z" transform="translate(99.77,1062.50) scale(0.01099,-0.01099)" fill="#0a0a0a"/>
<path d="M202.21 364.20V370.80M199.18 365.75L205.24 369.25M199.18 369.25L205.24 365.75" stroke="#0a0a0a" stroke-width="2.0" stroke-linecap="round" fill="none"/>
<path d="M289.60 218.40V225.00M286.57 219.95L292.63 223.45M286.57 223.45L292.63 219.95" stroke="#0a0a0a" stroke-width="2.0" stroke-linecap="round" fill="none"/>
<path d="M455.31 412.10V418.70M452.28 413.65L458.34 417.15M452.28 417.15L458.34 413.65" stroke="#0a0a0a" stroke-width="2.0" stroke-linecap="round" fill="none"/>
<path d="M542.50 257.70V264.30M539.47 259.25L545.53 262.75M539.47 262.75L545.53 259.25" stroke="#0a0a0a" stroke-width="2.0" stroke-linecap="round" fill="none"/>
<path d="M708.30 488.90V495.50M705.27 490.45L711.33 493.95M705.27 493.95L711.33 490.45" stroke="#0a0a0a" stroke-width="2.0" stroke-linecap="round" fill="none"/>
<path d="M802.01 304.80V311.40M798.98 306.35L805.04 309.85M798.98 309.85L805.04 306.35" stroke="#0a0a0a" stroke-width="2.0" stroke-linecap="round" fill="none"/>
</g>
</svg>
</body></html>
